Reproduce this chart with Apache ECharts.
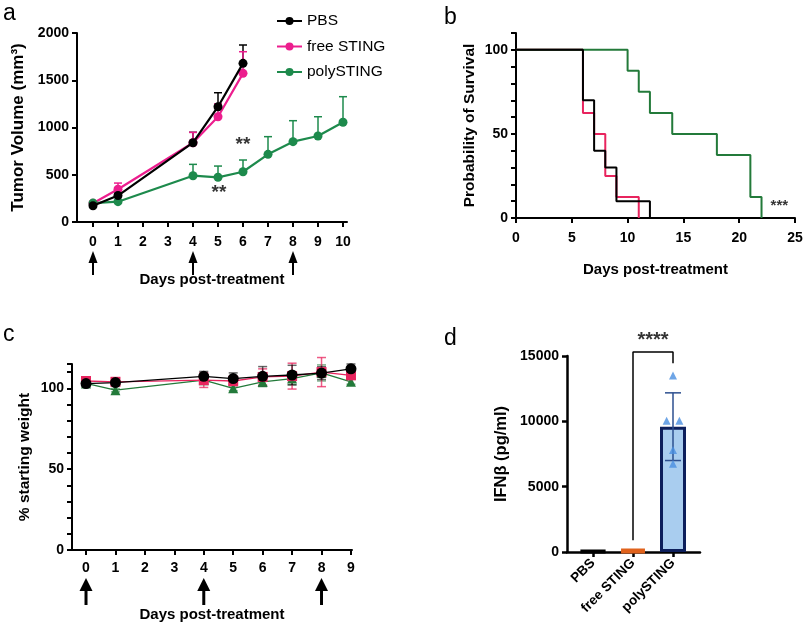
<!DOCTYPE html>
<html>
<head>
<meta charset="utf-8">
<script src="https://cdn.jsdelivr.net/npm/echarts@6/dist/echarts.min.js"></script>
<style>
  html, body { margin: 0; padding: 0; background: #fff; }
  #fig { width: 807px; height: 632px; }
</style>
</head>
<body>
<div id="fig"></div>
<script>
// panel a: tumour volume (mean, upper SD)
var daysShortA = [0, 1, 4, 5, 6];
var daysPolyA = [0, 1, 4, 5, 6, 7, 8, 9, 10];
var pbsA = [172, 280, 839, 1220, 1679];
var pbsASd = [10, 20, 110, 148, 194];
var freeA = [198, 346, 839, 1114, 1573];
var freeASd = [12, 66, 110, 135, 229];
var polyA = [200, 215, 490, 473, 532, 716, 850, 910, 1055];
var polyASd = [15, 15, 120, 119, 124, 187, 222, 204, 271];
var starsA = [[6.0, 815], [5.04, 307]];
var tickDaysA = [0, 1, 2, 3, 4, 5, 6, 7, 8, 9, 10];
var doseDaysA = [0, 4, 8];

// panel b: Kaplan-Meier survival (time, % surviving)
var survPbs = [[0, 100], [6, 70], [7, 40], [8, 30], [9, 10], [12, 0]];
var survFree = [[0, 100], [6, 62.5], [7, 50], [8, 25], [9, 12.5], [11, 0]];
var survPoly = [[0, 100], [10, 87.5], [11, 75], [12, 62.5], [14, 50], [18, 37.5], [21, 12.5], [22, 0]];
var starsB = [[23.6, 7.5]];

// panel c: body weight (% of start, SD)
var daysC = [0, 1, 4, 5, 6, 7, 8, 9];
var pbsC = [102.9, 103.5, 107.4, 106, 107.4, 108.2, 109.4, 112];
var pbsCSd = [2, 1.5, 3, 3.5, 6, 6, 4, 3];
var freeC = [104.5, 104, 105, 104.5, 107, 107.5, 110, 108];
var freeCSd = [1.5, 1.5, 4.5, 3, 5, 8, 9, 2];
var polyC = [103, 98.8, 105, 100, 104, 106, 109.5, 104];
var polyCSd = [1.5, 1, 2, 1.5, 3, 4, 5, 1.5];
var tickDaysC = [0, 1, 2, 3, 4, 5, 6, 7, 8, 9];
var doseDaysC = [0, 4, 8];

// panel d: IFN-beta
var groupsD = ['PBS', 'free STING', 'polySTING'];
var meansD = [60, 160, 9590];
var sdD = [0, 0, 2590];
var polyPointsD = [[2, 13500], [1.84, 10050], [2.16, 10050], [2, 7800], [2, 6750]];
var bracketD = [[1, 900], [1, 15300], [2, 15300], [2, 14450]];
var starsD = [[1.5, 16150]];

var FONT = 'Liberation Sans, Arial, sans-serif';
var PINK_A = '#ec1e8e', GREEN_A = '#1d8a4c';
var PINK = '#e8245e', GREEN = '#237a3a';

var chart = echarts.init(document.getElementById('fig'));

function pairs(xs, ys, sd) {
  return xs.map(function (x, i) { return sd ? [x, ys[i], sd[i]] : [x, ys[i]]; });
}

function errorBars(upperOnly, capW, color, lw) {
  return function (params, api) {
    var x = api.value(0), y = api.value(1), sd = api.value(2);
    if (!sd) return null;
    var top = api.coord([x, y + sd]);
    var bot = api.coord([x, upperOnly ? y : y - sd]);
    var st = { stroke: color, lineWidth: lw };
    var kids = [
      { type: 'line', shape: { x1: top[0], y1: top[1], x2: bot[0], y2: bot[1] }, style: st },
      { type: 'line', shape: { x1: top[0] - capW / 2, y1: top[1], x2: top[0] + capW / 2, y2: top[1] }, style: st }
    ];
    if (!upperOnly) {
      kids.push({ type: 'line', shape: { x1: bot[0] - capW / 2, y1: bot[1], x2: bot[0] + capW / 2, y2: bot[1] }, style: st });
    }
    return { type: 'group', children: kids };
  };
}

function axisBase(lw) {
  return {
    axisLine: { show: true, onZero: false, lineStyle: { color: '#000', width: lw } },
    axisTick: { show: true, length: 5, lineStyle: { color: '#000', width: lw } },
    splitLine: { show: false },
    axisLabel: { color: '#000', fontFamily: FONT, fontWeight: 'bold', fontSize: 14 },
    nameTextStyle: { color: '#000', fontFamily: FONT, fontWeight: 'bold', fontSize: 15.5 }
  };
}

function mk(base, extra) {
  var o = JSON.parse(JSON.stringify(base));
  for (var k in extra) {
    if (typeof extra[k] === 'object' && !Array.isArray(extra[k]) && o[k]) {
      for (var j in extra[k]) o[k][j] = extra[k][j];
    } else {
      o[k] = extra[k];
    }
  }
  return o;
}

function only(vals) {
  return function (v) { return vals.indexOf(v) >= 0 ? String(v) : ''; };
}
function plain(v) { return String(v); }

function starLabel(size) {
  return {
    type: 'scatter', symbolSize: 0, silent: true, clip: false,
    label: { show: true, position: 'inside', formatter: '', color: '#000', fontFamily: FONT, fontWeight: 'bold', fontSize: size }
  };
}

var b2 = axisBase(2), b3 = axisBase(2.5);

var option = {
  animation: false,
  textStyle: { fontFamily: FONT },
  grid: [
    { left: 77, top: 33, width: 270, height: 189 },
    { left: 516, top: 33, width: 279, height: 185 },
    { left: 72, top: 364, width: 280, height: 186 },
    { left: 567, top: 356, width: 133, height: 196 }
  ],
  legend: {
    orient: 'vertical', left: 271, top: 8, itemWidth: 25, itemHeight: 10, itemGap: 9.5,
    data: ['PBS', 'free STING', 'polySTING'],
    textStyle: { color: '#000', fontFamily: FONT, fontSize: 15.5 }
  },
  xAxis: [
    mk(b2, {
      type: 'value', gridIndex: 0, min: -0.64, max: 10.16,
      axisTick: { customValues: tickDaysA }, axisLabel: { customValues: tickDaysA, margin: 13 },
      name: 'Days post-treatment', nameLocation: 'middle', nameGap: 50.5,
      nameTextStyle: { fontSize: 15 }
    }),
    mk(b2, {
      type: 'value', gridIndex: 1, min: 0, max: 25, interval: 5,
      axisLabel: { margin: 13 },
      name: 'Days post-treatment', nameLocation: 'middle', nameGap: 44.5,
      nameTextStyle: { fontSize: 15 }
    }),
    mk(b2, {
      type: 'value', gridIndex: 2, min: -0.476, max: 9.035,
      axisTick: { customValues: tickDaysC }, axisLabel: { customValues: tickDaysC, margin: 11 },
      name: 'Days post-treatment', nameLocation: 'middle', nameGap: 57.5,
      nameTextStyle: { fontSize: 15 }
    }),
    mk(b3, {
      type: 'value', gridIndex: 3, min: -0.65, max: 2.675,
      axisTick: { customValues: [0, 1, 2] },
      axisLabel: {
        customValues: [0, 1, 2], rotate: 45, margin: 9, fontSize: 13.5,
        formatter: function (v) { return groupsD[Math.round(v)]; }
      }
    })
  ],
  yAxis: [
    mk(b2, {
      type: 'value', gridIndex: 0, min: 0, max: 2000, interval: 500,
      axisLabel: { margin: 8, formatter: plain },
      name: 'Tumor Volume (mm³)', nameLocation: 'middle', nameGap: 50,
      nameTextStyle: { fontSize: 17 }
    }),
    mk(b2, {
      type: 'value', gridIndex: 1, min: 0, max: 110, interval: 10,
      axisLabel: { margin: 8, formatter: only([0, 50, 100]) },
      name: 'Probability of Survival', nameLocation: 'middle', nameGap: 38
    }),
    mk(b2, {
      type: 'value', gridIndex: 2, min: 0, max: 115, interval: 10,
      axisLabel: { margin: 8, formatter: only([0, 50, 100]) },
      name: '% starting weight', nameLocation: 'middle', nameGap: 39
    }),
    mk(b3, {
      type: 'value', gridIndex: 3, min: 0, max: 15000, interval: 5000,
      axisLabel: { margin: 8, formatter: plain },
      name: 'IFNβ (pg/ml)', nameLocation: 'middle', nameGap: 57,
      nameTextStyle: { fontSize: 16.5 }
    })
  ],
  series: []
};

var S = option.series;

// panel a
[[pbsA, pbsASd, daysShortA, '#000'], [freeA, freeASd, daysShortA, PINK_A], [polyA, polyASd, daysPolyA, GREEN_A]].forEach(function (g) {
  S.push({ type: 'custom', xAxisIndex: 0, yAxisIndex: 0, renderItem: errorBars(true, 8, g[3], 1.5),
    encode: { x: 0, y: 1 }, data: pairs(g[2], g[0], g[1]), z: 1 });
});
S.push({ name: 'PBS', type: 'line', xAxisIndex: 0, yAxisIndex: 0, data: pairs(daysShortA, pbsA),
  symbol: 'circle', symbolSize: 9, color: '#000', lineStyle: { width: 2.2, color: '#000' }, z: 4 });
S.push({ name: 'free STING', type: 'line', xAxisIndex: 0, yAxisIndex: 0, data: pairs(daysShortA, freeA),
  symbol: 'circle', symbolSize: 9, color: PINK_A, lineStyle: { width: 2.2, color: PINK_A }, z: 3 });
S.push({ name: 'polySTING', type: 'line', xAxisIndex: 0, yAxisIndex: 0, data: pairs(daysPolyA, polyA),
  symbol: 'circle', symbolSize: 9, color: GREEN_A, lineStyle: { width: 2.2, color: GREEN_A }, z: 3 });
var sa = starLabel(19); sa.xAxisIndex = 0; sa.yAxisIndex = 0; sa.data = starsA; sa.label.formatter = '**';
S.push(sa);

// panel b
[[survFree, PINK], [survPoly, GREEN], [survPbs, '#000']].forEach(function (g, i) {
  S.push({ name: 'surv' + i, type: 'line', step: 'end', xAxisIndex: 1, yAxisIndex: 1, data: g[0],
    showSymbol: false, symbol: 'none', lineStyle: { width: 2, color: g[1] }, z: 2 + i });
});
var sb = starLabel(15); sb.xAxisIndex = 1; sb.yAxisIndex = 1; sb.data = starsB; sb.label.formatter = '***';
S.push(sb);

// panel c
var cGroups = [
  [polyC, polyCSd, GREEN, 'triangle', 'rgba(35,122,58,0.55)'],
  [freeC, freeCSd, PINK, 'rect', 'rgba(232,36,94,0.75)'],
  [pbsC, pbsCSd, '#000', 'circle', 'rgba(0,0,0,0.6)']
];
cGroups.forEach(function (g, i) {
  S.push({ type: 'custom', xAxisIndex: 2, yAxisIndex: 2, renderItem: errorBars(false, 9, g[4], 1.5),
    encode: { x: 0, y: 1 }, data: pairs(daysC, g[0], g[1]), z: 1 });
  S.push({ name: 'weight' + i, type: 'line', xAxisIndex: 2, yAxisIndex: 2, data: pairs(daysC, g[0]),
    symbol: g[3], symbolSize: g[3] === 'circle' ? 11 : 10, color: g[2],
    lineStyle: { width: 1.3, color: g[2] }, z: 3 + i });
});

// panel d
S.push({
  name: 'ifnb', type: 'bar', xAxisIndex: 3, yAxisIndex: 3, barWidth: 26, z: 2,
  data: [
    { value: [0, meansD[0]], itemStyle: { color: '#000', borderColor: '#000', borderWidth: 4 } },
    { value: [1, meansD[1]], itemStyle: { color: '#e0621c', borderColor: '#e0621c', borderWidth: 5 } },
    { value: [2, meansD[2]], itemStyle: { color: '#a9cdef', borderColor: '#0d1f5c', borderWidth: 3 } }
  ]
});
S.push({ type: 'custom', xAxisIndex: 3, yAxisIndex: 3, renderItem: errorBars(false, 16, '#2d4f8f', 1.5),
  encode: { x: 0, y: 1 }, data: [[0, meansD[0], sdD[0]], [1, meansD[1], sdD[1]], [2, meansD[2], sdD[2]]], z: 4 });
S.push({ name: 'ifnpts', type: 'scatter', xAxisIndex: 3, yAxisIndex: 3, data: polyPointsD,
  symbol: 'triangle', symbolSize: 8, itemStyle: { color: '#4a8fe0' }, z: 5 });
S.push({ name: 'bracket', type: 'line', xAxisIndex: 3, yAxisIndex: 3, data: bracketD, clip: false,
  symbol: 'none', lineStyle: { color: '#000', width: 1.5 }, z: 3 });
var sd4 = starLabel(20); sd4.xAxisIndex = 3; sd4.yAxisIndex = 3; sd4.data = starsD; sd4.label.formatter = '****';
S.push(sd4);

chart.setOption(option);

// dose arrows under the day axes, plus panel letters
function arrows(gridIdx, days, tipOff, len, headW, headL, lw) {
  var out = [];
  days.forEach(function (d) {
    var p = chart.convertToPixel({ gridIndex: gridIdx }, [d, 0]);
    var x = p[0], tip = p[1] + tipOff;
    out.push({ type: 'line', shape: { x1: x, y1: tip + headL - 1, x2: x, y2: tip + len },
      style: { stroke: '#000', lineWidth: lw } });
    out.push({ type: 'polygon', shape: { points: [[x, tip], [x - headW / 2, tip + headL], [x + headW / 2, tip + headL]] },
      style: { fill: '#000' } });
  });
  return out;
}

function letter(t, x, y) {
  return { type: 'text', left: x, top: y, style: { text: t, fill: '#000', font: '23px ' + FONT } };
}

var gfx = [].concat(
  arrows(0, doseDaysA, 29, 24, 9, 12, 2),
  arrows(2, doseDaysC, 28, 27, 13, 13, 3),
  [letter('a', 3, 2), letter('b', 444, 6), letter('c', 3, 323), letter('d', 444, 327)]
);
chart.setOption({ graphic: gfx });
</script>
</body>
</html>
